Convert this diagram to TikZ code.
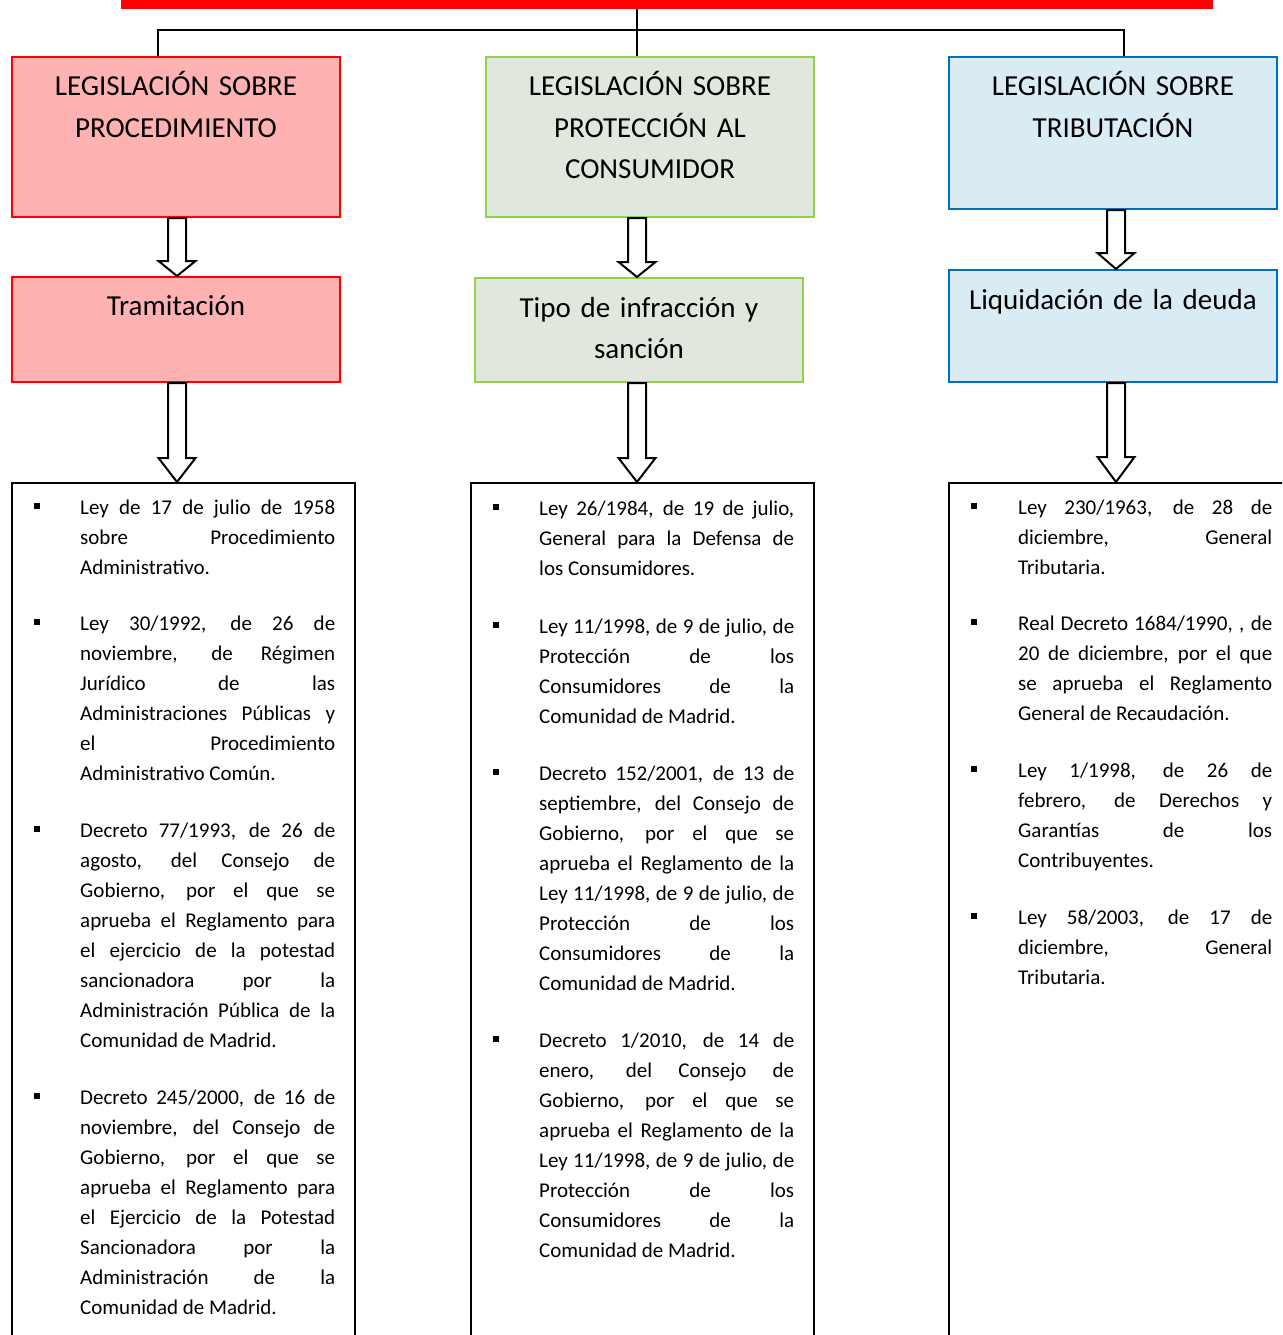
\documentclass[tikz,border=0pt]{standalone}
\usepackage{fontspec}
\setmainfont{Carlito}
\usetikzlibrary{calc}
\definecolor{redfill}{RGB}{255,178,178}
\definecolor{grnfill}{RGB}{226,231,222}
\definecolor{grnline}{RGB}{146,208,80}
\definecolor{blufill}{RGB}{218,236,243}
\definecolor{bluline}{RGB}{0,112,192}
\newcommand\blkarrow[4]{%
  \draw[barrow] let \p1=(#1), \p2=(#2), \p3=(#3) in
    (\x1-9pt,\y2) -- (\x1+9pt,\y2) -- (\x1+9pt,\y3+#4) -- (\x1+18.5pt,\y3+#4)
    -- (\x1,\y3) -- (\x1-18.5pt,\y3+#4) -- (\x1-9pt,\y3+#4) -- cycle;}
\tolerance=10000
\begin{document}
\begin{tikzpicture}[x=1pt,y=-1pt,
  box/.style={line width=2pt, inner sep=0pt, minimum width=328pt},
  redbox/.style={box, draw=red, fill=redfill},
  grnbox/.style={box, draw=grnline, fill=grnfill},
  blubox/.style={box, draw=bluline, fill=blufill},
  listbox/.style={draw=black, line width=2pt, fill=white, inner sep=0pt, minimum height=867pt},
  hlabel/.style={inner sep=0pt, anchor=base, text width=326pt, align=center, font=\fontsize{29}{41}\selectfont},
  item/.style={inner sep=0pt, anchor=base west, text width=255pt, align=justify, font=\fontsize{21}{30}\selectfont},
  bul/.style={fill=black, inner sep=0pt, minimum size=6pt},
  conn/.style={draw=black, line width=2pt},
  barrow/.style={draw=black, fill=white, line width=2pt, line join=miter}
]
\clip (0,0) rectangle (1282,1335);
\fill[white] (0,0) rectangle (1282,1335);
% top bar
\node[fill=red, inner sep=0pt, minimum width=1092pt, minimum height=19pt] (bar) at (667,-0.5) {};
% header boxes
\node[redbox, minimum height=160pt] (h1) at (176,137) {};
\node[grnbox, minimum height=160pt] (h2) at (650,137) {};
\node[blubox, minimum height=152pt] (h3) at (1113,133) {};
% second level
\node[redbox, minimum height=105pt] (t1) at (176,329.5) {};
\node[grnbox, minimum height=104pt] (t2) at (639,330) {};
\node[blubox, minimum height=112pt] (t3) at (1113,326) {};
% list boxes
\node[listbox, minimum width=343pt] (d1) at (183.5,916.5) {};
\node[listbox, minimum width=343pt] (d2) at (642.5,916.5) {};
\node[listbox, minimum width=371pt] (d3) at (1134.5,916.5) {};
% labels
\node[hlabel] (h1l) at (176,96) {LEGISLACIÓN SOBRE\\PROCEDIMIENTO};
\node[hlabel] (h2l) at (650,96) {LEGISLACIÓN SOBRE\\PROTECCIÓN AL\\CONSUMIDOR};
\node[hlabel] (h3l) at (1113,96) {LEGISLACIÓN SOBRE\\TRIBUTACIÓN};
\node[hlabel] (t1l) at (176,315) {Tramitación};
\node[hlabel] (t2l) at (639,317) {Tipo de infracción y\\sanción};
\node[hlabel] (t3l) at (1113,309) {Liquidación de la deuda};
% connectors
\coordinate (hub) at (637,30);
\draw[conn] (bar.south -| hub) -- (h2.north -| hub);
\draw[conn] ([xshift=-18pt]h1.north) |- (hub) -| ([xshift=11pt]h3.north);
% block arrows
\blkarrow{[xshift=1pt]h1.south}{h1.south}{t1.north}{15pt}
\blkarrow{[xshift=1pt]t1.south}{t1.south}{d1.north}{24pt}
\blkarrow{[xshift=-2pt]t2.north}{h2.south}{t2.north}{15pt}
\blkarrow{[xshift=-2pt]t2.south}{t2.south}{d2.north}{24pt}
\blkarrow{[xshift=3pt]t3.north}{h3.south}{t3.north}{16pt}
\blkarrow{[xshift=3pt]t3.south}{t3.south}{d3.north}{25pt}
% left column
\node[item] (l1) at (80,514) {Ley de 17 de julio de 1958 \linebreak sobre Procedimiento \linebreak Administrativo.};
\node[item] (l2) at (80,630) {Ley 30/1992, de 26 de \linebreak noviembre, de Régimen \linebreak Jurídico de las \linebreak Administraciones Públicas y \linebreak el Procedimiento \linebreak Administrativo Común.};
\node[item] (l3) at (80,837) {Decreto 77/1993, de 26 de \linebreak agosto, del Consejo de \linebreak Gobierno, por el que se \linebreak aprueba el Reglamento para \linebreak el ejercicio de la potestad \linebreak sancionadora por la \linebreak Administración Pública de la \linebreak Comunidad de Madrid.};
\node[item] (l4) at (80,1104) {Decreto 245/2000, de 16 de \linebreak noviembre, del Consejo de \linebreak Gobierno, por el que se \linebreak aprueba el Reglamento para \linebreak el Ejercicio de la Potestad \linebreak Sancionadora por la \linebreak Administración de la \linebreak Comunidad de Madrid.};
\foreach \n in {l1,l2,l3,l4} \node[bul] (b\n) at ([xshift=-43pt,yshift=8.5pt]\n.base west) {};
% middle column
\node[item] (m1) at (539,515) {Ley 26/1984, de 19 de julio, \linebreak General para la Defensa de \linebreak los Consumidores.};
\node[item] (m2) at (539,633) {Ley 11/1998, de 9 de julio, de \linebreak Protección de los \linebreak Consumidores de la \linebreak Comunidad de Madrid.};
\node[item] (m3) at (539,780) {Decreto 152/2001, de 13 de \linebreak septiembre, del Consejo de \linebreak Gobierno, por el que se \linebreak aprueba el Reglamento de la \linebreak Ley 11/1998, de 9 de julio, de \linebreak Protección de los \linebreak Consumidores de la \linebreak Comunidad de Madrid.};
\node[item] (m4) at (539,1047) {Decreto 1/2010, de 14 de \linebreak enero, del Consejo de \linebreak Gobierno, por el que se \linebreak aprueba el Reglamento de la \linebreak Ley 11/1998, de 9 de julio, de \linebreak Protección de los \linebreak Consumidores de la \linebreak Comunidad de Madrid.};
\foreach \n in {m1,m2,m3,m4} \node[bul] (b\n) at ([xshift=-43pt,yshift=8.5pt]\n.base west) {};
% right column
\node[item, text width=254pt] (r1) at (1018,514) {Ley 230/1963, de 28 de \linebreak diciembre, General \linebreak Tributaria.};
\node[item, text width=254pt] (r2) at (1018,630) {Real Decreto 1684/1990, , de \linebreak 20 de diciembre, por el que \linebreak se aprueba el Reglamento \linebreak General de Recaudación.};
\node[item, text width=254pt] (r3) at (1018,777) {Ley 1/1998, de 26 de \linebreak febrero, de Derechos y \linebreak Garantías de los \linebreak Contribuyentes.};
\node[item, text width=254pt] (r4) at (1018,924) {Ley 58/2003, de 17 de \linebreak diciembre, General \linebreak Tributaria.};
\foreach \n in {r1,r2,r3,r4} \node[bul] (b\n) at ([xshift=-44pt,yshift=8.5pt]\n.base west) {};
\end{tikzpicture}
\end{document}
